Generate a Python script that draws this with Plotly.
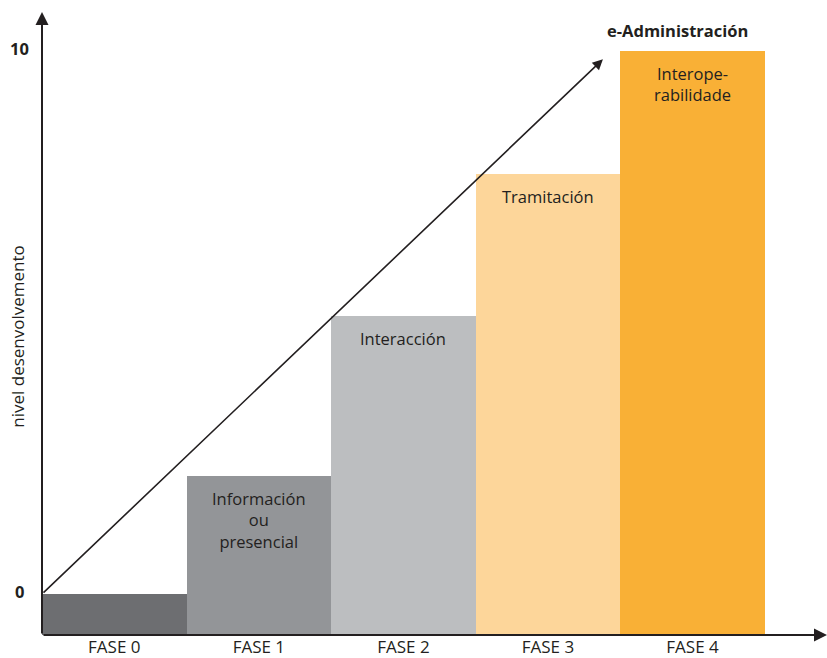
import plotly.graph_objects as go

categories = ["FASE 0", "FASE 1", "FASE 2", "FASE 3", "FASE 4"]
levels = [0.0, 2.17, 5.12, 7.73, 10.0]
bar_colors = ["#6d6e71", "#939598", "#bcbec0", "#fdd69a", "#f9b036"]
bar_labels = ["", "Información<br>ou<br>presencial", "Interacción", "Tramitación", "Interope-<br>rabilidade"]
y_ticks = [0, 10]
arrow_start = (-0.5, 0.0)
arrow_end = (3.38, 9.85)

Y_MIN = -0.755
Y_MAX = 10.72
X_MIN = -0.5
X_MAX = 4.93
FONT = "Open Sans"
DARK = "#231f20"

xs = list(range(len(categories)))
fig = go.Figure()
fig.add_trace(go.Bar(
    x=xs, y=[v - Y_MIN for v in levels], base=Y_MIN,
    marker=dict(color=bar_colors, line=dict(width=0)),
    width=1.0, hoverinfo="skip", showlegend=False,
))

annotations = []
for i, lab in enumerate(bar_labels):
    if lab:
        annotations.append(dict(x=xs[i], y=levels[i], xref="x", yref="y", text=lab,
                                showarrow=False, yanchor="top", yshift=-9,
                                font=dict(family=FONT, size=16.5, color=DARK)))
# axes arrows
annotations.append(dict(x=X_MIN, y=Y_MAX, ax=X_MIN, ay=Y_MIN, xref="x", yref="y",
                        axref="x", ayref="y", showarrow=True, arrowhead=2, arrowsize=1.3,
                        arrowwidth=2, arrowcolor=DARK, text=""))
annotations.append(dict(x=X_MAX, y=Y_MIN, ax=X_MIN, ay=Y_MIN, xref="x", yref="y",
                        axref="x", ayref="y", showarrow=True, arrowhead=2, arrowsize=1.3,
                        arrowwidth=2, arrowcolor=DARK, text=""))
annotations.append(dict(x=arrow_end[0], y=arrow_end[1], ax=arrow_start[0], ay=arrow_start[1],
                        xref="x", yref="y", axref="x", ayref="y", showarrow=True,
                        arrowhead=2, arrowsize=1.3, arrowwidth=1.6, arrowcolor=DARK, text=""))
annotations.append(dict(x=xs[4], y=10, xref="x", yref="y", text="<b>e-Administración</b>",
                        showarrow=False, yanchor="bottom", yshift=7, xshift=-15,
                        font=dict(family=FONT, size=16.5, color=DARK)))
for t in y_ticks:
    annotations.append(dict(x=X_MIN, y=t, xref="x", yref="y", text="<b>%d</b>" % t,
                            showarrow=False, xanchor="center", xshift=-23, yshift=3,
                            font=dict(family=FONT, size=16.5, color=DARK)))
annotations.append(dict(x=X_MIN, y=4.5, xref="x", yref="y", text="nivel desenvolvemento",
                        showarrow=False, textangle=-90, xanchor="center", xshift=-24,
                        yshift=13,
                        font=dict(family=FONT, size=17, color=DARK)))

fig.update_layout(
    width=827, height=658,
    margin=dict(l=42, r=0, t=12, b=23),
    paper_bgcolor="white", plot_bgcolor="white",
    bargap=0,
    xaxis=dict(range=[X_MIN, X_MAX], tickvals=xs, ticktext=categories, showgrid=False,
               zeroline=False, showline=False, ticks="",
               tickfont=dict(family=FONT, size=17, color=DARK), ticklabelstandoff=0),
    yaxis=dict(range=[Y_MIN, Y_MAX], showgrid=False, zeroline=False, showline=False,
               showticklabels=False, ticks=""),
    annotations=annotations,
)
fig.write_html("out.html")
